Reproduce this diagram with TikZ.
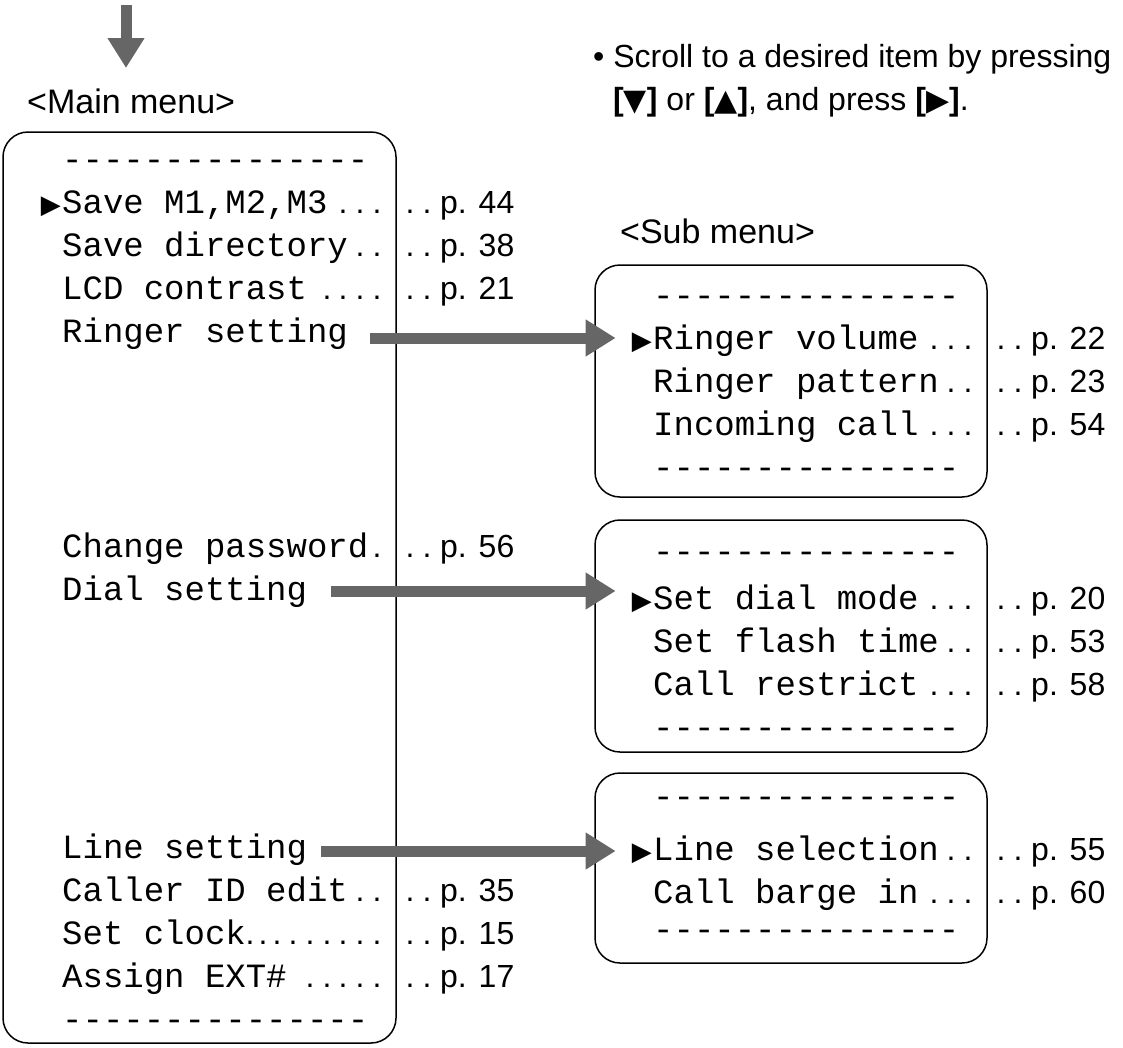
\documentclass[tikz,border=0pt]{standalone}
\usepackage{fontspec}
\setmainfont{Liberation Sans}
\setmonofont{Liberation Mono}
\newfontfamily\symfont{DejaVu Sans}
\usetikzlibrary{arrows.meta}
\definecolor{arrowgray}{HTML}{666666}
\def\fivedots{934,951,968,1001,1018}
\def\fourdots{951,968,1001,1018}
\newcommand\notetri[1]{{\symfont\fontsize{30}{32}\selectfont #1}}
\begin{document}
\begin{tikzpicture}[x=1pt,y=-1pt,
  menubox/.style={draw=black, line width=1.5pt, rounded corners=25pt, inner sep=0pt},
  item/.style={anchor=base west, inner sep=0pt, font=\ttfamily\fontsize{34}{40}\selectfont},
  pnum/.style={anchor=base west, inner sep=0pt, font=\fontsize{32}{38}\selectfont},
  leaderdot/.style={anchor=base, inner sep=0pt, font=\fontsize{32}{38}\selectfont},
  marker/.style={anchor=base east, inner sep=0pt, font=\symfont\fontsize{26}{30}\selectfont},
  menulabel/.style={anchor=base west, inner sep=0pt, font=\fontsize{34}{40}\selectfont},
  note/.style={anchor=base west, inner sep=0pt, font=\fontsize{32}{38}\selectfont},
  bigarrow/.style={draw=arrowgray, line width=11pt, -{Triangle[length=30pt,width=35pt]}}
]
\fill[white] (0,0) rectangle (1123,1047);
\useasboundingbox (0,0) rectangle (1123,1047);

% top arrow
\coordinate (topstart) at (126,5);
\coordinate (topend) at (126,68);
\draw[bigarrow] (topstart) -- (topend);

% labels
\node[menulabel] (mainlabel) at (27,113) {<Main menu>};
\node[menulabel] (sublabel) at (620,243) {<Sub menu>};
\node[note] (note1) at (593,67) {• Scroll to a desired item by pressing};
\node[note] (note2) at (613,110) {\textbf{[}\notetri{▼}\textbf{]} or \textbf{[}\notetri{▲}\textbf{]}, and press \textbf{[}\notetri{▶}\textbf{]}.};

% boxes
\node[menubox, minimum width=393pt, minimum height=911pt] (mainbox) at (199.5,587.5) {};
\node[menubox, minimum width=392pt, minimum height=232pt] (subA) at (791,381) {};
\node[menubox, minimum width=392pt, minimum height=232pt] (subB) at (791,636) {};
\node[menubox, minimum width=392pt, minimum height=190pt] (subC) at (791,868) {};

% main menu rows
\node[item] (m0) at (62,170) {---------------};
\node[marker] (mk1) at (61,213) {▶};
\node[item] (m1) at (62,213) {Save M1,M2,M3};
\node[pnum] (p1) at (440,213) {p. 44};
\foreach \x in {343,360,377,410,427} \node[leaderdot] (dA\x) at (\x,213) {.};
\node[item] (m2) at (62,256) {Save directory};
\node[pnum] (p2) at (440,256) {p. 38};
\foreach \x in {360,377,410,427} \node[leaderdot] (dB\x) at (\x,256) {.};
\node[item] (m3) at (62,299) {LCD contrast};
\node[pnum] (p3) at (440,299) {p. 21};
\foreach \x in {327,343,360,377,410,427} \node[leaderdot] (dC\x) at (\x,299) {.};
\node[item] (m4) at (62,342) {Ringer setting};
\node[item] (m9) at (62,557) {Change password};
\node[pnum] (p9) at (440,557) {p. 56};
\foreach \x in {377,410,427} \node[leaderdot] (dD\x) at (\x,557) {.};
\node[item] (m10) at (62,600) {Dial setting};
\node[item] (m16) at (62,858) {Line setting};
\node[item] (m17) at (62,901) {Caller ID edit};
\node[pnum] (p17) at (440,901) {p. 35};
\foreach \x in {360,377,410,427} \node[leaderdot] (dE\x) at (\x,901) {.};
\node[item] (m18) at (62,944) {Set clock};
\node[pnum] (p18) at (440,944) {p. 15};
\foreach \x in {250,263,277,293,310,327,343,360,377,410,427} \node[leaderdot] (dF\x) at (\x,944) {.};
\node[item] (m19) at (62,987) {Assign EXT\#};
\node[pnum] (p19) at (440,987) {p. 17};
\foreach \x in {310,327,343,360,377,410,427} \node[leaderdot] (dG\x) at (\x,987) {.};
\node[item] (m20) at (62,1030) {---------------};

% sub menu A
\node[item] (a0) at (653,306) {---------------};
\node[marker] (amk) at (652,349) {▶};
\node[item] (a1) at (653,349) {Ringer volume};
\node[pnum] (pa1) at (1031,349) {p. 22};
\foreach \x in \fivedots \node[leaderdot] (dH\x) at (\x,349) {.};
\node[item] (a2) at (653,392) {Ringer pattern};
\node[pnum] (pa2) at (1031,392) {p. 23};
\foreach \x in \fourdots \node[leaderdot] (dI\x) at (\x,392) {.};
\node[item] (a3) at (653,435) {Incoming call};
\node[pnum] (pa3) at (1031,435) {p. 54};
\foreach \x in \fivedots \node[leaderdot] (dJ\x) at (\x,435) {.};
\node[item] (a4) at (653,478) {---------------};

% sub menu B
\node[item] (b0) at (653,562) {---------------};
\node[marker] (bmk) at (652,609) {▶};
\node[item] (b1) at (653,609) {Set dial mode};
\node[pnum] (pb1) at (1031,609) {p. 20};
\foreach \x in \fivedots \node[leaderdot] (dK\x) at (\x,609) {.};
\node[item] (b2) at (653,652) {Set flash time};
\node[pnum] (pb2) at (1031,652) {p. 53};
\foreach \x in \fourdots \node[leaderdot] (dL\x) at (\x,652) {.};
\node[item] (b3) at (653,695) {Call restrict};
\node[pnum] (pb3) at (1031,695) {p. 58};
\foreach \x in \fivedots \node[leaderdot] (dM\x) at (\x,695) {.};
\node[item] (b4) at (653,738) {---------------};

% sub menu C
\node[item] (c0) at (653,807) {---------------};
\node[marker] (cmk) at (652,860) {▶};
\node[item] (c1) at (653,860) {Line selection};
\node[pnum] (pc1) at (1031,860) {p. 55};
\foreach \x in \fourdots \node[leaderdot] (dN\x) at (\x,860) {.};
\node[item] (c2) at (653,903) {Call barge in};
\node[pnum] (pc2) at (1031,903) {p. 60};
\foreach \x in \fivedots \node[leaderdot] (dO\x) at (\x,903) {.};
\node[item] (c3) at (653,940) {---------------};

% connectors
\coordinate (arA) at ([xshift=22pt,yshift=4pt]m4.base east);
\coordinate (tipA) at ([xshift=-16pt]amk.west);
\draw[bigarrow] (arA) -- (arA -| tipA);
\coordinate (arB) at ([xshift=24pt,yshift=9pt]m10.base east);
\coordinate (tipB) at ([xshift=-16pt]bmk.west);
\draw[bigarrow] (arB) -- (arB -| tipB);
\coordinate (arC) at ([xshift=14pt,yshift=7pt]m16.base east);
\coordinate (tipC) at ([xshift=-16pt]cmk.west);
\draw[bigarrow] (arC) -- (arC -| tipC);
\end{tikzpicture}
\end{document}
